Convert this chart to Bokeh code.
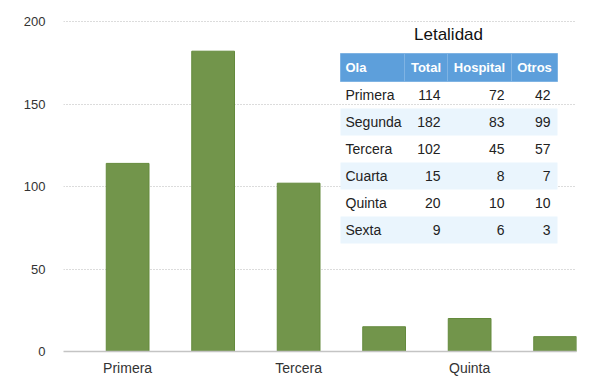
from bokeh.plotting import figure
from bokeh.models import ColumnDataSource, FixedTicker, Range1d
from bokeh.core.properties import value
from bokeh.embed import file_html
from bokeh.resources import INLINE

# ---- data ----
olas = ["Primera", "Segunda", "Tercera", "Cuarta", "Quinta", "Sexta"]
total = [114, 182, 102, 15, 20, 9]
hospital = [72, 83, 45, 8, 10, 6]
otros = [42, 99, 57, 7, 10, 3]
y_ticks = [0, 50, 100, 150, 200]
x_tick_labels = ["Primera", "Tercera", "Quinta"]
table_title = "Letalidad"
table_headers = ["Ola", "Total", "Hospital", "Otros"]

FONT = "Liberation Sans"

W, H = 592, 380
FL, FR, FT, FB = 63, 576, 20, 351  # frame edges in canvas px
YMAX = 200 * (FB - FT) / 330.0  # keep 200 at px 21

p = figure(width=W, height=H, output_backend="svg", toolbar_location=None,
           x_range=Range1d(-0.75, 5.25), y_range=Range1d(0, YMAX),
           min_border_left=FL, min_border_right=W - FR,
           min_border_top=FT, min_border_bottom=H - FB)
p.outline_line_color = None
p.background_fill_color = "white"

xs = list(range(len(olas)))
src = ColumnDataSource(dict(x=xs, top=total, ola=olas))
p.vbar(x="x", top="top", width=0.5, bottom=0, source=src,
       fill_color="#72954b", line_color="#648a3c", line_width=1)

# axes
p.xaxis.ticker = FixedTicker(ticks=[olas.index(t) for t in x_tick_labels])
p.xaxis.major_label_overrides = {olas.index(t): t for t in x_tick_labels}
p.xaxis.major_tick_line_color = None
p.xaxis.major_tick_out = 0
p.xaxis.major_tick_in = 0
p.xaxis.minor_tick_line_color = None
p.xaxis.axis_line_color = "#c4c4c4"
p.xaxis.axis_line_width = 1.5
p.xaxis.major_label_standoff = 8
p.xaxis.major_label_text_font = FONT
p.xaxis.major_label_text_font_size = "14px"
p.xaxis.major_label_text_color = "#333333"

p.yaxis.ticker = FixedTicker(ticks=y_ticks)
p.yaxis.axis_line_color = None
p.yaxis.major_tick_line_color = None
p.yaxis.major_tick_out = 0
p.yaxis.major_tick_in = 0
p.yaxis.minor_tick_line_color = None
p.yaxis.major_label_standoff = 18
p.yaxis.major_label_text_font = FONT
p.yaxis.major_label_text_font_size = "13px"
p.yaxis.major_label_text_color = "#333333"

p.xgrid.grid_line_color = None
p.ygrid.ticker = FixedTicker(ticks=[t for t in y_ticks if t > 0])
p.ygrid.grid_line_color = "#b8b8b8"
p.ygrid.grid_line_dash = "1 2"
p.ygrid.grid_line_width = 1

# ---- table (layout in canvas pixels, converted to data units) ----
def dx(px):
    return -0.75 + (px - FL) * 6.0 / (FR - FL)

def dy(py):
    return (FB - py) * YMAX / (FB - FT)

col_edges = [340, 404, 447, 511, 557]
head_top, head_bot = 53, 81
row_h = 27
n = len(olas)

# header background
p.quad(left=[dx(col_edges[i]) for i in range(4)],
       right=[dx(col_edges[i + 1]) for i in range(4)],
       top=[dy(head_top)] * 4, bottom=[dy(head_bot)] * 4,
       fill_color="#5d9fdb", line_color="#7fb3e3", line_width=1)

# striped rows
stripe_rows = [i for i in range(n) if i % 2 == 1]
p.quad(left=[dx(col_edges[0])] * len(stripe_rows),
       right=[dx(col_edges[-1])] * len(stripe_rows),
       top=[dy(head_bot + row_h * i) for i in stripe_rows],
       bottom=[dy(head_bot + row_h * (i + 1)) for i in stripe_rows],
       fill_color="#eaf5fd", line_color=None)

# title
p.text(x=[dx(448)], y=[dy(34)], text=[table_title],
       text_font=value(FONT), text_font_size="17px", text_color="#111111",
       text_align="center", text_baseline="middle")

# header text
hx = [col_edges[0] + 5] + [(col_edges[i] + col_edges[i + 1]) / 2 for i in range(1, 4)]
p.text(x=[dx(hx[0])], y=[dy((head_top + head_bot) / 2)], text=[table_headers[0]],
       text_font=value(FONT), text_font_size="13px", text_font_style="bold",
       text_color="white", text_align="left", text_baseline="middle")
p.text(x=[dx(v) for v in hx[1:]], y=[dy((head_top + head_bot) / 2)] * 3,
       text=table_headers[1:], text_font=value(FONT), text_font_size="13px",
       text_font_style="bold", text_color="white", text_align="center",
       text_baseline="middle")

# body text
row_y = [dy(head_bot + row_h * i + row_h / 2) for i in range(n)]
p.text(x=[dx(col_edges[0] + 5)] * n, y=row_y, text=olas,
       text_font=value(FONT), text_font_size="14px", text_color="#222222",
       text_align="left", text_baseline="middle")
for ci, vals in enumerate([total, hospital, otros]):
    right_px = col_edges[ci + 2] - 7
    p.text(x=[dx(right_px)] * n, y=row_y, text=[str(v) for v in vals],
           text_font=value(FONT), text_font_size="14px", text_color="#222222",
           text_align="right", text_baseline="middle")

open("out.html", "w").write(file_html(p, INLINE))
